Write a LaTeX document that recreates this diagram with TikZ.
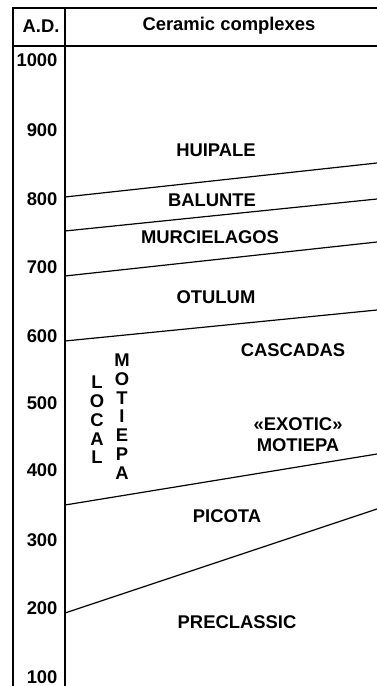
\documentclass[tikz,border=0pt]{standalone}
\usepackage{fontspec}
\setmainfont{Liberation Sans}
\begin{document}
\begin{tikzpicture}[x=1pt,y=-1pt,font=\fontsize{18.4}{21}\selectfont\bfseries]
\useasboundingbox (0,0) rectangle (377,686);
% table frame
\draw[line width=1.8pt] (13,686)--(13,8)--(377,8);
\draw[line width=1.8pt] (13,46)--(377,46);
\draw[line width=1.8pt] (65,8)--(65,686);
\node (ad) at (41,26){A.D.};
\node (cc) at (229,26){Ceramic complexes};
% years
\foreach \yr/\ypos in {1000/60, 900/130, 800/199, 700/267, 600/336, 500/403, 400/470, 300/540, 200/608, 100/677}
{
    \node[anchor=east] (y\yr) at (61,\ypos) {\yr};
}
% boundaries between complexes
\foreach \b/\l/\r in {a/197/163, b/231/199, c/276/242, d/341/310, e/505/454, f/613/509}
{
    \coordinate (\b l) at (65,\l);
    \coordinate (\b r) at (377,\r);
    \draw[line width=1.2pt] (\b l)--(\b r);
}
% complexes
\foreach \nm/\txt/\xpos/\ypos in {hui/HUIPALE/216/150, bal/BALUNTE/212/200, mur/MURCIELAGOS/210/237, otu/OTULUM/216/297, cas/CASCADAS/293/350, pic/PICOTA/227/516, pre/PRECLASSIC/237/622}
{
    \node (\nm) at (\xpos,\ypos){\txt};
}
\node[align=center] (exo) at (298,434.5){«EXOTIC»\\MOTIEPA};
\node[align=center,font=\fontsize{18.4}{18.8}\selectfont\bfseries] (loc) at (97,420){L\\O\\C\\A\\L};
\node[align=center,font=\fontsize{18.4}{18.8}\selectfont\bfseries] (mot) at (122,416.5){M\\O\\T\\I\\E\\P\\A};
\end{tikzpicture}
\end{document}
